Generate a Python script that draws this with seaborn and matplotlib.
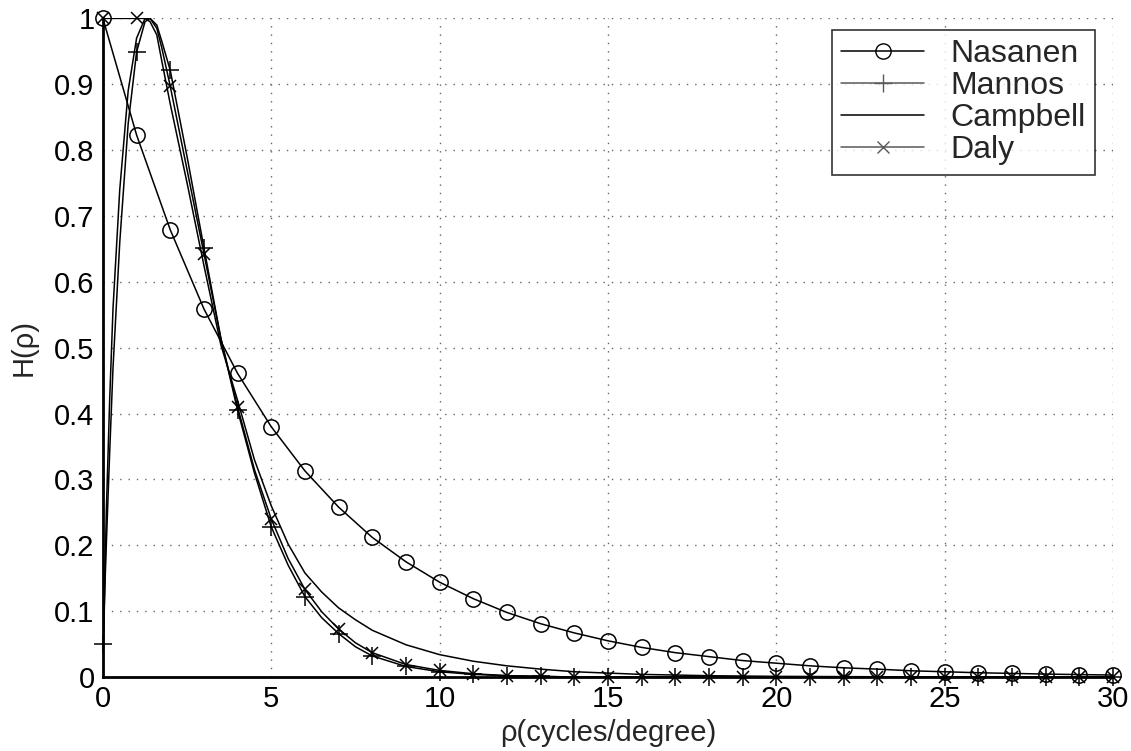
import numpy as np
import pandas as pd
import matplotlib
matplotlib.use("Agg")
import matplotlib.pyplot as plt
from matplotlib.lines import Line2D
import seaborn as sns

# marker positions: integer frequencies 0..30
rho = list(range(31))
nasanen = [1.0, 0.823, 0.679, 0.559, 0.461, 0.380, 0.313, 0.258, 0.212, 0.175,
           0.144, 0.119, 0.098, 0.081, 0.067, 0.055, 0.045, 0.037, 0.031, 0.025,
           0.021, 0.017, 0.014, 0.012, 0.0095, 0.008, 0.0065, 0.0055, 0.0045, 0.0037, 0.003]
mannos = [0.05, 0.949, 0.921, 0.652, 0.405, 0.228, 0.122, 0.066, 0.032, 0.016,
          0.008, 0.004, 0.002, 0.001, 0.0, 0.0, 0.0, 0.0, 0.0, 0.0,
          0.0, 0.0, 0.0, 0.0, 0.0, 0.0, 0.0, 0.0, 0.0, 0.0, 0.0]
campbell = [0.0, 0.97, 0.87, 0.625, 0.42, 0.26, 0.158, 0.105, 0.071, 0.049,
            0.034, 0.024, 0.017, 0.012, 0.008, 0.006, 0.004, 0.003, 0.002, 0.0015,
            0.001, 0.0008, 0.0006, 0.0004, 0.0003, 0.0002, 0.0, 0.0, 0.0, 0.0, 0.0]
daly = [1.0, 1.0, 0.897, 0.643, 0.41, 0.24, 0.133, 0.073, 0.037, 0.019,
        0.010, 0.005, 0.002, 0.001, 0.0, 0.0, 0.0, 0.0, 0.0, 0.0,
        0.0, 0.0, 0.0, 0.0, 0.0, 0.0, 0.0, 0.0, 0.0, 0.0, 0.0]

# extra points read between the markers (the lines are drawn finer near the peak)
rho_fine = [0.1, 0.2, 0.3, 0.5, 0.75, 1.25, 1.4, 1.6, 1.75, 2.5, 3.5, 4.5, 5.5, 6.5, 7.5]
mannos_fine = [0.2, 0.34, 0.47, 0.66, 0.84, 0.995, 1.0, 0.99, 0.965, 0.79, 0.515, 0.31, 0.17,
               0.09, 0.046]
campbell_fine = [0.25, 0.42, 0.56, 0.74, 0.89, 1.0, 0.995, 0.975, 0.935, 0.75, 0.505, 0.33, 0.202,
                 0.129, 0.087]
daly_fine = [1.0, 1.0, 1.0, 1.0, 1.0, 1.0, 1.0, 0.985, 0.955, 0.77, 0.515, 0.315, 0.18,
             0.099, 0.052]

sns.set_style("white")
plt.rcParams['font.family'] = ['Liberation Sans', 'DejaVu Sans']

fig = plt.figure(figsize=(11.31, 7.51), dpi=100)
ax = fig.add_axes([0.091, 0.0985, 0.893, 0.877])


def full(fx, fy):
    df = pd.DataFrame({'x': rho + fx, 'y': fy})
    return df.sort_values('x')


lines = [
    ('Nasanen', pd.DataFrame({'x': rho, 'y': nasanen}), nasanen, 'o', 11, 'none'),
    ('Mannos', full(rho_fine, mannos + mannos_fine), mannos, '+', 13, 'k'),
    ('Campbell', full(rho_fine, campbell + campbell_fine), None, None, 0, 'k'),
    ('Daly', full(rho_fine, daly + daly_fine), daly, 'x', 8, 'k'),
]

for name, df, marks, mk, ms, fc in lines:
    sns.lineplot(data=df, x='x', y='y', color='k', linewidth=1.1, ax=ax,
                 sort=False, estimator=None)
    if marks is not None:
        sns.lineplot(x=rho, y=marks, color='k', linestyle='none', marker=mk,
                     markersize=ms, markerfacecolor=fc, markeredgecolor='k',
                     markeredgewidth=1.1, ax=ax, estimator=None, clip_on=False,
                     zorder=3)

ax.set_xlim(0, 30)
ax.set_ylim(0, 1)
ax.set_xticks(range(0, 31, 5))
ax.set_yticks(np.arange(0, 1.01, 0.1))
ax.set_yticklabels(['0', '0.1', '0.2', '0.3', '0.4', '0.5', '0.6', '0.7', '0.8', '0.9', '1'])
ax.tick_params(direction='in', length=7, width=1, labelsize=21, pad=6, colors='k')
ax.grid(True, color='0.4', linestyle=(0, (1, 5)), linewidth=1)
for s in ['top', 'right']:
    ax.spines[s].set_visible(False)
for s in ['left', 'bottom']:
    ax.spines[s].set_color('k')
    ax.spines[s].set_linewidth(2)
    ax.spines[s].set_zorder(4)
ax.set_xlabel('ρ(cycles/degree)', fontsize=21, labelpad=4)
ax.set_ylabel('H(ρ)', fontsize=21, labelpad=12)

handles = [
    Line2D([], [], color='k', lw=1.1, marker='o', markersize=11, markerfacecolor='none'),
    Line2D([], [], color='0.35', lw=1.1, marker='+', markersize=13),
    Line2D([], [], color='k', lw=1.1),
    Line2D([], [], color='0.35', lw=1.1, marker='x', markersize=8),
]
leg = ax.legend(handles, ['Nasanen', 'Mannos', 'Campbell', 'Daly'], loc='upper right',
                bbox_to_anchor=(0.982, 0.983), borderaxespad=0, fontsize=23,
                frameon=True, fancybox=False, edgecolor='k', handlelength=2.6,
                handletextpad=0.8, borderpad=0.3, labelspacing=0.06)
leg.get_frame().set_linewidth(1.2)

fig.savefig('out.png', dpi=100)
